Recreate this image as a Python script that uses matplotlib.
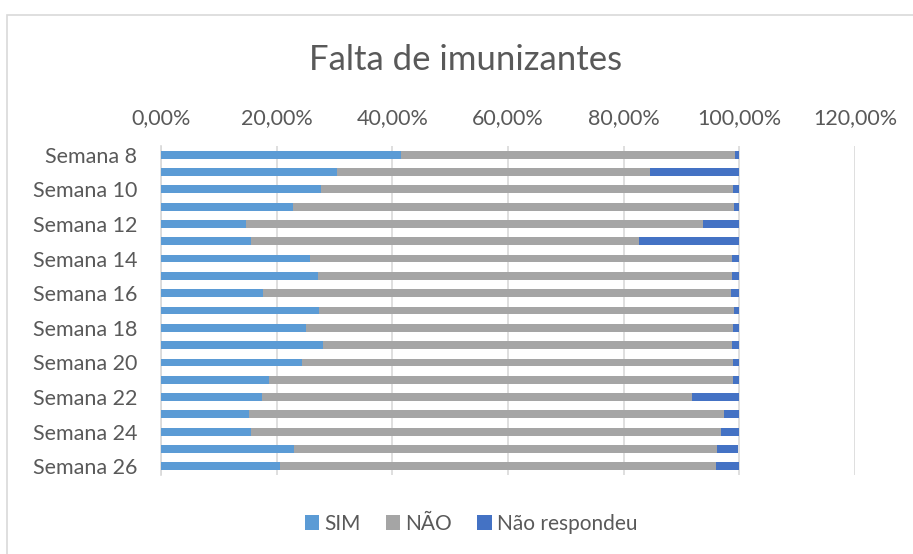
import matplotlib
matplotlib.use("Agg")
import matplotlib.pyplot as plt
from matplotlib.patches import Rectangle
from matplotlib.ticker import FuncFormatter

# dados
semanas = [8, 9, 10, 11, 12, 13, 14, 15, 16, 17, 18, 19, 20, 21, 22, 23, 24, 25, 26]
sim = [41.5, 30.5, 27.6, 22.8, 14.7, 15.6, 25.7, 27.1, 17.6, 27.3,
       25.0, 28.0, 24.4, 18.7, 17.4, 15.2, 15.6, 23.0, 20.5]
nao = [57.8, 54.1, 71.3, 76.3, 79.0, 67.0, 73.0, 71.6, 80.9, 71.8,
       73.9, 70.7, 74.5, 80.2, 74.4, 82.1, 81.2, 73.1, 75.5]
nao_resp = [0.7, 15.4, 1.1, 0.9, 6.3, 17.4, 1.3, 1.3, 1.5, 0.9,
            1.1, 1.3, 1.1, 1.1, 8.2, 2.7, 3.2, 3.6, 4.0]

cores = ["#5B9BD5", "#A5A5A5", "#4472C4"]
nomes = ["SIM", "NÃO", "Não respondeu"]
texto = "#595959"

plt.rcParams['font.family'] = ['Lato', 'DejaVu Sans']

fig = plt.figure(figsize=(9.13, 5.54), dpi=100)
fig.patches.append(Rectangle((7 / 913, -1), 2, 2 - 15 / 554, transform=fig.transFigure,
                             fill=False, edgecolor="#d9d9d9", lw=1.2))
ax = fig.add_axes([161 / 913, 79 / 554, 694 / 913, 329 / 554])

y = list(range(len(semanas)))
esq = [0] * len(semanas)
for serie, cor, nome in zip([sim, nao, nao_resp], cores, nomes):
    ax.barh(y, serie, left=esq, height=0.45, color=cor, label=nome, zorder=3)
    esq = [a + b for a, b in zip(esq, serie)]

ax.set_xlim(0, 120)
ax.set_ylim(len(semanas) - 0.5, -0.5)
ax.set_xticks(range(0, 121, 20))
ax.xaxis.set_major_formatter(FuncFormatter(lambda v, p: f"{v:.2f}%".replace(".", ",")))
ax.xaxis.tick_top()
ax.set_yticks(y[::2])
ax.set_yticklabels([f"Semana {s}" for s in semanas[::2]])
ax.tick_params(axis="both", length=0, labelsize=15.5, colors=texto)
ax.tick_params(axis="x", pad=13)
ax.tick_params(axis="y", pad=17)
ax.grid(axis="x", color="#d9d9d9", lw=1.2, zorder=0)
for s in ["top", "right", "bottom"]:
    ax.spines[s].set_visible(False)
ax.spines["left"].set_color("#d9d9d9")
ax.spines["left"].set_linewidth(1.2)

fig.text(0.510, 1 - 60 / 554, "Falta de imunizantes", ha="center", va="center",
         fontsize=25, color=texto)
fig.legend(loc="center", bbox_to_anchor=(0.516, 1 - 524 / 554), ncol=3, frameon=False,
           fontsize=15, labelcolor=texto, handlelength=0.7, handleheight=0.7,
           handletextpad=0.25, columnspacing=1.2)

fig.savefig("out.png", dpi=100)
